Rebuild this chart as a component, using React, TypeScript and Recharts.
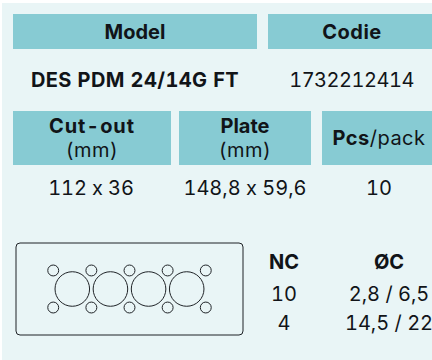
import { ScatterChart, Scatter, XAxis, YAxis, ReferenceArea } from "recharts";

// plate drawing, all in mm, origin at the plate centre
const plateWidth = 148.8;
const plateHeight = 59.6;
const largeHoles = [
  { x: -37.5, y: 0 },
  { x: -12.5, y: 0 },
  { x: 12.5, y: 0 },
  { x: 37.5, y: 0 },
];
const smallHoles = [
  { x: -50, y: 12 },
  { x: -25, y: 12 },
  { x: 0, y: 12 },
  { x: 25, y: 12 },
  { x: 50, y: 12 },
  { x: -50, y: -12 },
  { x: -25, y: -12 },
  { x: 0, y: -12 },
  { x: 25, y: -12 },
  { x: 50, y: -12 },
];
const largeDiameter = 22;
const smallDiameter = 6.5;

const modelHeaders = ["Model", "Codie"];
const modelValues = ["DES PDM 24/14G FT", "1732212414"];
const sizeValues = ["112 x 36", "148,8 x 59,6", "10"];
const ncHeaders = ["NC", "ØC"];
const ncRows = [
  ["10", "2,8 / 6,5"],
  ["4", "14,5 / 22"],
];

const FONT = "Inter, sans-serif";
const TEAL = "#87cbd3";
const INK = "#111418";
const LINE = "#1f2327";
const PX_PER_MM = 1.525;

function Cell({ x, y, w, h, bold, size = 20, ls = 0, children, fill }: any) {
  return (
    <div
      style={{
        position: "absolute",
        left: x,
        top: y,
        width: w,
        height: h,
        background: fill,
        display: "flex",
        flexDirection: "column",
        alignItems: "center",
        justifyContent: "center",
        fontSize: size,
        fontWeight: bold ? 700 : 400,
        fontFeatureSettings: '"calt" 0, "tnum" 1',
        letterSpacing: ls,
        lineHeight: "24px",
        whiteSpace: "nowrap",
        color: INK,
      }}
    >
      {children}
    </div>
  );
}

function hole(diameter: number) {
  return (p: any) => (
    <circle cx={p.cx} cy={p.cy} r={(diameter * PX_PER_MM) / 2 + 0.5} fill="none" stroke={LINE} strokeWidth={1} />
  );
}

function PlateDrawing() {
  return (
    <ScatterChart width={231} height={96} margin={{ top: 2, right: 2, bottom: 2, left: 2 }}>
      <XAxis type="number" dataKey="x" domain={[-plateWidth / 2, plateWidth / 2]} hide />
      <YAxis type="number" dataKey="y" domain={[-plateHeight / 2, plateHeight / 2]} hide />
      <ReferenceArea
        x1={-plateWidth / 2}
        x2={plateWidth / 2}
        y1={-plateHeight / 2}
        y2={plateHeight / 2}
        fill="#fff"
        fillOpacity={0}
        stroke={LINE}
        strokeWidth={1}
        radius={4}
        ifOverflow="visible"
      />
      <Scatter data={largeHoles} shape={hole(largeDiameter)} isAnimationActive={false} />
      <Scatter data={smallHoles} shape={hole(smallDiameter)} isAnimationActive={false} />
    </ScatterChart>
  );
}

export default function App() {
  return (
    <div
      style={{
        position: "absolute",
        left: 0,
        top: 0,
        width: 432,
        height: 360,
        background: "#fff",
        overflow: "hidden",
        fontFamily: FONT,
      }}
    >
      <div style={{ position: "absolute", left: 2, top: 3, width: 430, height: 357, background: "#e9f5f6" }} />

      <Cell x={13} y={14} w={244} h={35} bold fill={TEAL}>{modelHeaders[0]}</Cell>
      <Cell x={268} y={14} w={168} h={35} bold ls={0.5} fill={TEAL}>{modelHeaders[1]}</Cell>
      <Cell x={13} y={62} w={244} h={36} bold ls={0.4}>{modelValues[0]}</Cell>
      <Cell x={268} y={62} w={167} h={36} ls={-0.5}>{modelValues[1]}</Cell>

      <Cell x={13} y={111} w={158} h={54} fill={TEAL}>
        <b style={{ letterSpacing: 0.9 }}>Cut-out</b>
        <span style={{ letterSpacing: 0.5 }}>(mm)</span>
      </Cell>
      <Cell x={179} y={111} w={132} h={54} fill={TEAL}>
        <b>Plate</b>
        <span style={{ letterSpacing: 0.5 }}>(mm)</span>
      </Cell>
      <Cell x={322} y={111} w={110} h={54} fill={TEAL}>
        <span style={{ letterSpacing: 0.5, marginLeft: 4 }}><b>Pcs</b>/pack</span>
      </Cell>

      <Cell x={13} y={170} w={156} h={36} ls={-0.1}>{sizeValues[0]}</Cell>
      <Cell x={179} y={170} w={132} h={36}>{sizeValues[1]}</Cell>
      <Cell x={322} y={170} w={114} h={36}>{sizeValues[2]}</Cell>

      <div style={{ position: "absolute", left: 14, top: 241 }}>
        <PlateDrawing />
      </div>

      <Cell x={254} y={248} w={60} h={28} bold>{ncHeaders[0]}</Cell>
      <Cell x={349} y={248} w={80} h={28} bold>{ncHeaders[1]}</Cell>
      <Cell x={254} y={280} w={60} h={28}>{ncRows[0][0]}</Cell>
      <Cell x={349} y={280} w={80} h={28}>{ncRows[0][1]}</Cell>
      <Cell x={254} y={309} w={60} h={28}>{ncRows[1][0]}</Cell>
      <Cell x={349} y={309} w={80} h={28}>{ncRows[1][1]}</Cell>
    </div>
  );
}
